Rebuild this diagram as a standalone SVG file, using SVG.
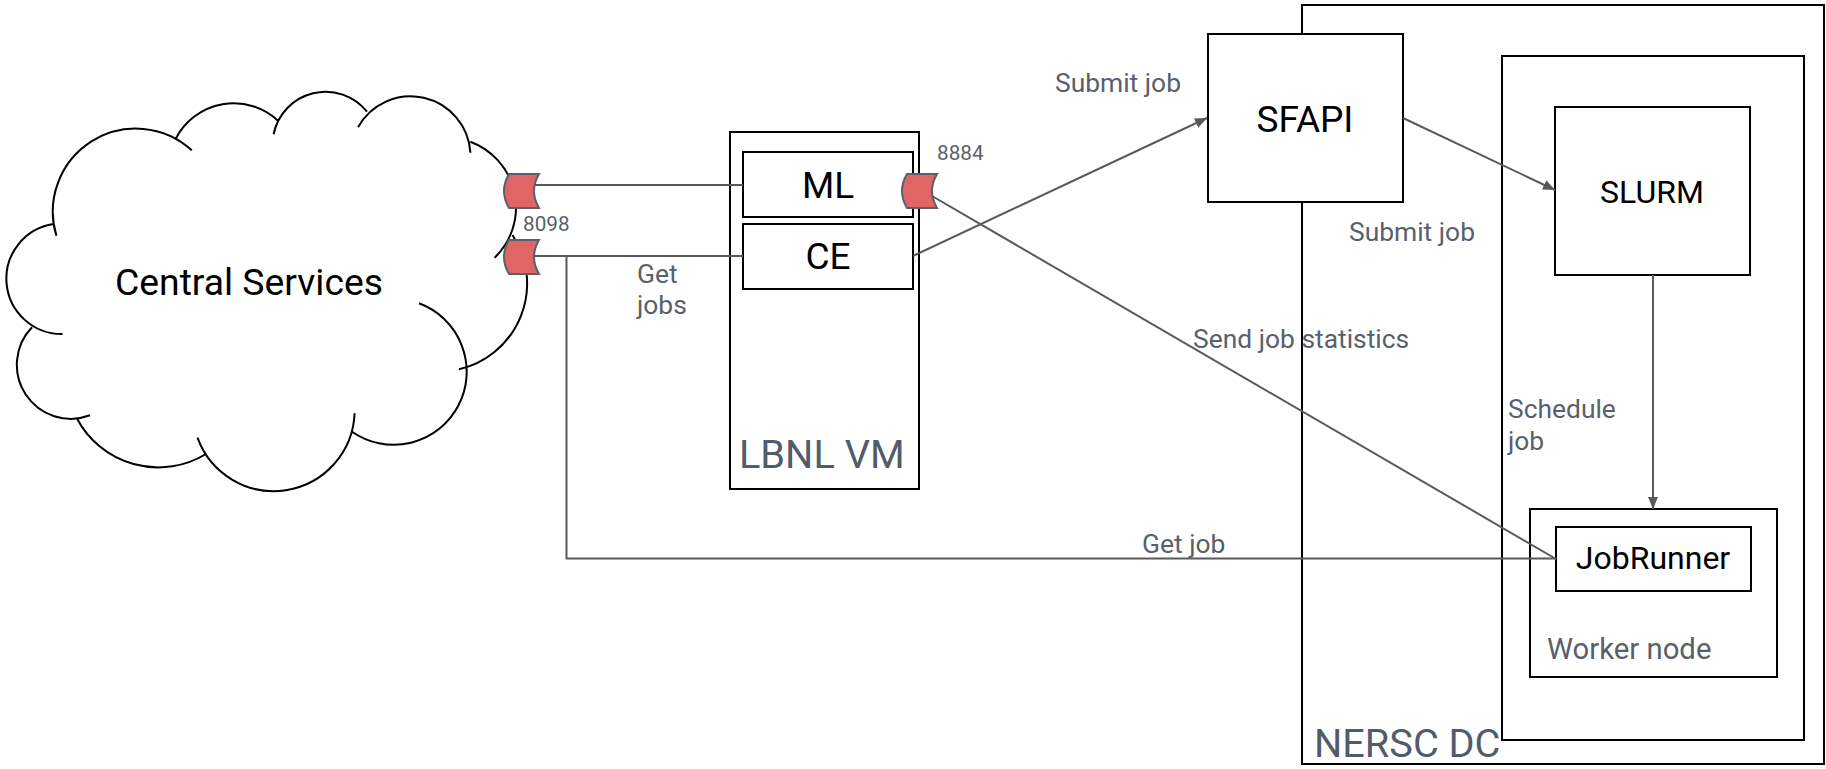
<svg xmlns="http://www.w3.org/2000/svg" width="1826" height="769" viewBox="0 0 1826 769">
<style>
.box{fill:#fff;stroke:#000;stroke-width:2}
.cloud{fill:none;stroke:#000;stroke-width:2}
.conn{fill:none;stroke:#595959;stroke-width:2}
.port{fill:#e06666;stroke:#595f6b;stroke-width:2}
text{font-family:Roboto,"Liberation Sans",sans-serif}
.lbl{fill:#000}
.note{fill:#595f6b;font-size:26.4px}
.big{fill:#515c6b;font-size:39.7px}
.small{fill:#595f6b;font-size:20.7px}
</style>
<defs>
<marker id="arrow" markerUnits="userSpaceOnUse" markerWidth="13" markerHeight="11" refX="12" refY="5" orient="auto"><path d="M0 0L12 5L0 10Z" fill="#595959"/></marker>
</defs>
<rect width="1826" height="769" fill="#fff"/>
<g id="nersc-dc"><rect class="box" x="1302" y="5" width="522" height="759"/><text class="big" x="1314" y="757">NERSC DC</text></g>
<g id="inner-system"><rect class="box" x="1502" y="56" width="302" height="684"/></g>
<g id="central-services">
<path class="cloud" d="M56.4 235.7A83 83 0 0 1 191.8 150.3M176 138.3A65 65 0 0 1 278 120.7M273.6 134.3A53 53 0 0 1 367 111.7M358 127.3A60 60 0 0 1 470.4 152.7M470.4 141.7A70 70 0 0 1 494.6 257.7M512.5 235A88 88 0 0 1 459 369.3M419 303.3A73 73 0 1 1 352 431.7M354.6 413.3A81 81 0 0 1 197.5 437.7M206 454A92 92 0 0 1 76.8 418.3M90 415.3A54 54 0 0 1 32 327.3M62.5 334A55.3 55.3 0 0 1 53.6 224"/>
<text class="lbl" x="115" y="295" font-size="37.3">Central Services</text>
</g>
<g id="lbnl-vm"><rect class="box" x="730" y="132" width="189" height="357"/><text class="big" x="739" y="468">LBNL VM</text></g>
<g id="ml"><rect class="box" x="743" y="152" width="170" height="65"/><text class="lbl" x="828" y="198" font-size="37" text-anchor="middle">ML</text></g>
<g id="ce"><rect class="box" x="743" y="224" width="170" height="65"/><text class="lbl" x="828" y="269" font-size="37" text-anchor="middle">CE</text></g>
<g id="sfapi"><rect class="box" x="1208" y="34" width="195" height="168"/><text class="lbl" x="1305" y="132" font-size="37" text-anchor="middle">SFAPI</text></g>
<g id="slurm"><rect class="box" x="1555" y="107" width="195" height="168"/><text class="lbl" x="1652" y="203" font-size="32" text-anchor="middle">SLURM</text></g>
<g id="worker-node"><rect class="box" x="1530" y="509" width="247" height="168"/><text class="note" x="1547" y="659" style="font-size:29.3px">Worker node</text></g>
<g id="jobrunner"><rect class="box" x="1556" y="527" width="195" height="64"/><text class="lbl" x="1653" y="569" font-size="32" text-anchor="middle">JobRunner</text></g>
<g id="connectors">
<path class="conn" d="M533 185H743"/>
<path class="conn" d="M533 256H743"/>
<path class="conn" d="M566.5 256V558.500H1556"/>
<path class="conn" d="M913 256L1207 118" marker-end="url(#arrow)"/>
<path class="conn" d="M932 196L1556 559"/>
<path class="conn" d="M1403 118L1555 190" marker-end="url(#arrow)"/>
<path class="conn" d="M1653 275V509" marker-end="url(#arrow)"/>
</g>
<g id="port-1"><path class="port" d="M509 174H539Q529 191 539 208H509Q499 191 509 174Z"/></g>
<g id="port-2"><path class="port" d="M509 240H539Q529 257 539 274H509Q499 257 509 240Z"/><text class="small" x="523" y="231">8098</text></g>
<g id="port-3"><path class="port" d="M907 174H937Q927 191 937 208H907Q897 191 907 174Z"/><text class="small" x="937" y="160">8884</text></g>
<text class="note" x="1055" y="92">Submit job</text>
<text class="note" x="1349" y="241">Submit job</text>
<text class="note" x="1193" y="347.500">Send job statistics</text>
<text class="note" x="1142" y="553">Get job</text>
<text class="note" x="637" y="283">Get</text>
<text class="note" x="637" y="314">jobs</text>
<text class="note" x="1508" y="418">Schedule</text>
<text class="note" x="1508" y="450">job</text>
</svg>
